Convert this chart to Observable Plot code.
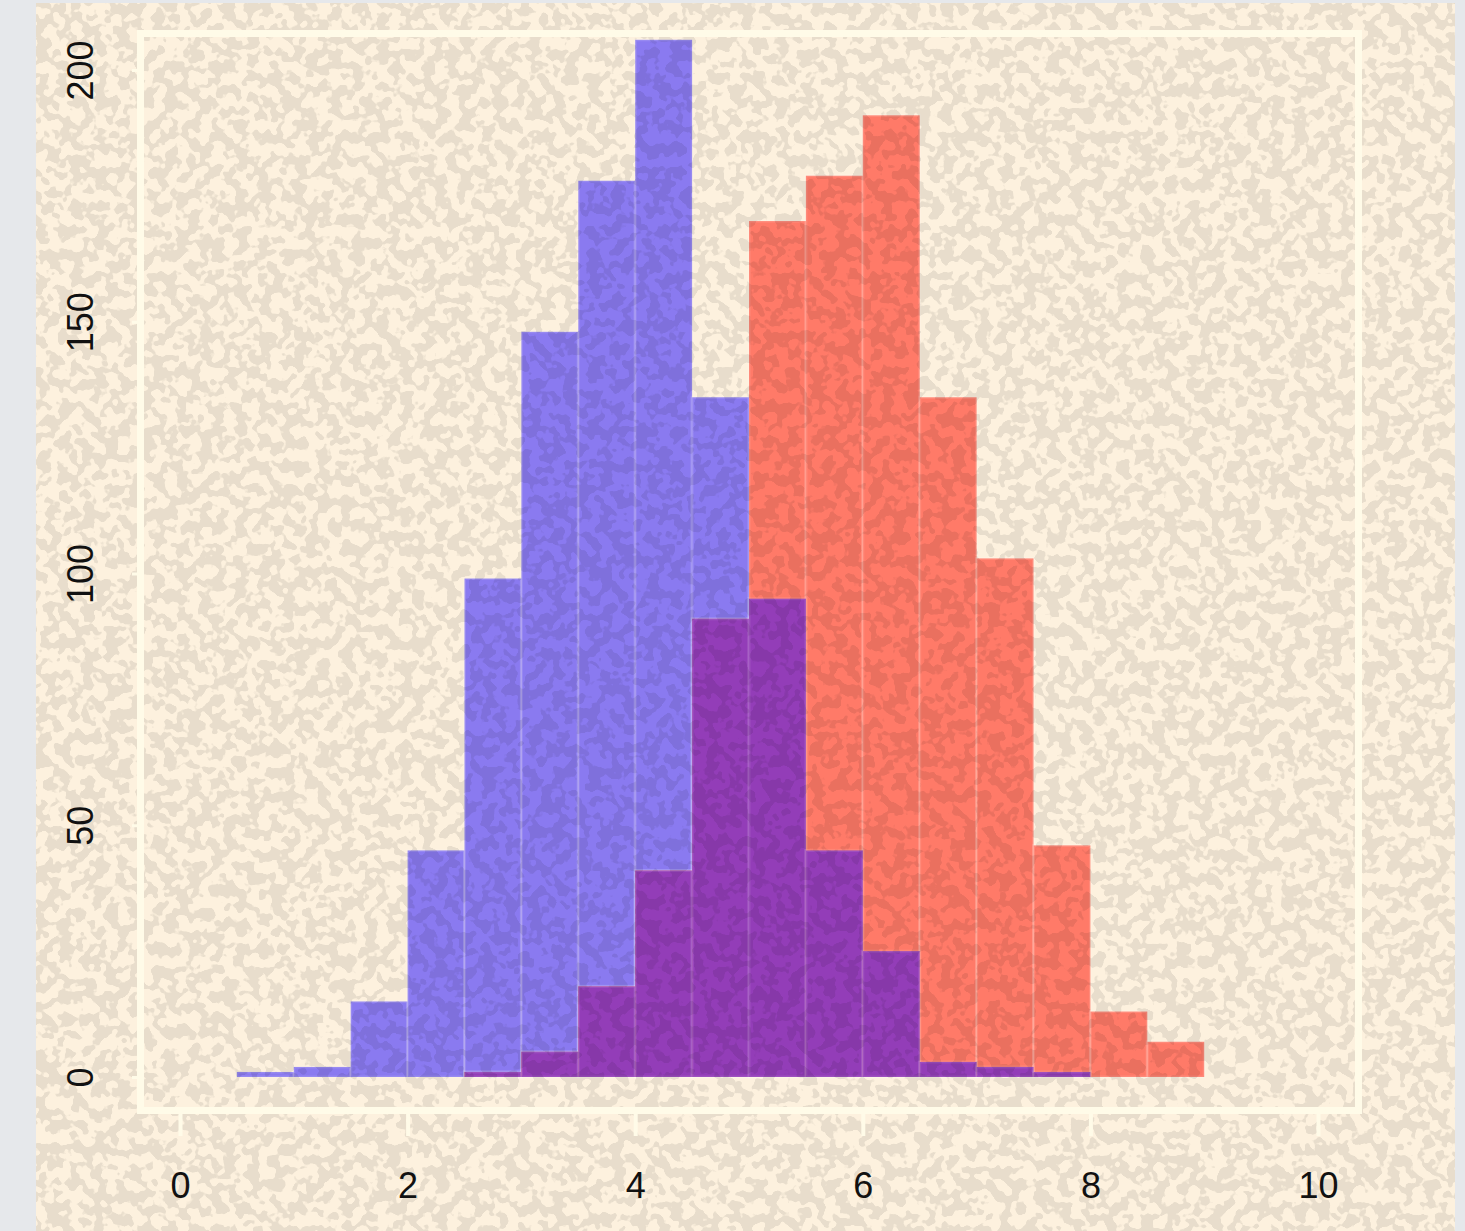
<!DOCTYPE html>
<html>
<head>
<meta charset="utf-8">
<script src="https://cdn.jsdelivr.net/npm/d3@7"></script>
<script src="https://cdn.jsdelivr.net/npm/@observablehq/plot@0.6"></script>
<style>
  html, body { margin: 0; padding: 0; background: #e6e8eb; }
  #chart { position: absolute; left: 36px; top: 3px; }
</style>
</head>
<body>
<div id="chart"></div>
<script>
// Bin edges (width 0.5) and counts per bin
const binEdges = [0.5, 1.0, 1.5, 2.0, 2.5, 3.0, 3.5, 4.0, 4.5, 5.0, 5.5, 6.0, 6.5, 7.0, 7.5, 8.0, 8.5, 9.0];
const seriesA = [1, 2, 15, 45, 99, 148, 178, 206, 135, 95, 45, 25, 3, 2, 1, 0, 0];
const seriesB = [0, 0, 0, 0, 1, 5, 18, 41, 91, 170, 179, 191, 135, 103, 46, 13, 7];
const xTicks = [0, 2, 4, 6, 8, 10];
const yTicks = [0, 50, 100, 150, 200];

const colorA = "#8a7af0";
const colorB = "#ff7a68";
const colorOverlap = "#933db8";

const rows = seriesA.map((a, i) => ({
  x1: binEdges[i], x2: binEdges[i + 1], a, b: seriesB[i], both: Math.min(a, seriesB[i])
}));

const W = 1419, H = 1228;
const plot = Plot.plot({
  width: W,
  height: H,
  marginLeft: 104,
  marginRight: 97,
  marginTop: 30,
  marginBottom: 121,
  insetLeft: 40,
  insetRight: 40,
  insetTop: 37,
  insetBottom: 33,
  style: { background: "#fdf1de", fontFamily: "'Liberation Sans', 'DejaVu Sans', sans-serif", overflow: "visible" },
  x: { domain: [0, 10] },
  y: { domain: [0, 200] },
  marks: [
    Plot.rectY(rows.filter(d => d.a > 0), { x1: "x1", x2: "x2", y: "a", fill: colorA, stroke: "#ffffff", strokeOpacity: 0.12, strokeWidth: 3 }),
    Plot.rectY(rows.filter(d => d.b > 0), { x1: "x1", x2: "x2", y: "b", fill: colorB, stroke: "#ffffff", strokeOpacity: 0.12, strokeWidth: 3 }),
    Plot.rectY(rows.filter(d => d.both > 0), { x1: "x1", x2: "x2", y: "both", fill: colorOverlap, stroke: "#ffffff", strokeOpacity: 0.1, strokeWidth: 3 }),
    Plot.frame({ stroke: "#fffbe8", strokeWidth: 7 }),
    Plot.axisX({ ticks: xTicks, tickSize: 26, tickPadding: 36, stroke: "#fffbe8", strokeWidth: 4, fill: "#111", fontSize: 36, label: null }),
    Plot.axisY({ ticks: yTicks, tickSize: 8, tickPadding: 40, tickRotate: -90, stroke: "#fffbe8", strokeWidth: 3, fill: "#111", fontSize: 36, label: null })
  ]
});

document.getElementById("chart").appendChild(plot);

// paper-grain texture overlay (decorative), placed above the bars but below frame/axes
const svg = d3.select(plot);
const defs = svg.insert("defs", ":first-child");
const f = defs.append("filter").attr("id", "grain")
  .attr("x", 0).attr("y", 0).attr("width", W).attr("height", H)
  .attr("filterUnits", "userSpaceOnUse")
  .attr("color-interpolation-filters", "sRGB");
f.append("feTurbulence").attr("type", "fractalNoise").attr("baseFrequency", 0.085).attr("numOctaves", 2).attr("seed", 7).attr("result", "n");
f.append("feColorMatrix").attr("type", "matrix")
  .attr("values", "0 0 0 0 0  0 0 0 0 0  0 0 0 0 0  24 0 0 0 -11.6");
f.append("feComponentTransfer").append("feFuncA").attr("type", "linear").attr("slope", 0.085);

const frameEl = plot.querySelector('[aria-label="frame"]');
const tex = document.createElementNS("http://www.w3.org/2000/svg", "rect");
tex.setAttribute("x", 0); tex.setAttribute("y", 0);
tex.setAttribute("width", W); tex.setAttribute("height", H);
tex.setAttribute("filter", "url(#grain)");
tex.setAttribute("fill", "#000");
tex.style.pointerEvents = "none";
frameEl.parentNode.insertBefore(tex, frameEl);
</script>
</body>
</html>
